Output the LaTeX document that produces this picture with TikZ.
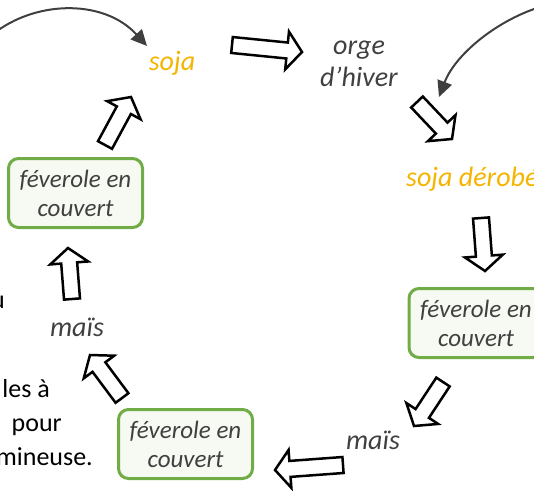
\documentclass[tikz,border=0pt]{standalone}
\usepackage{fontspec}
\setmainfont{Carlito}
\usetikzlibrary{calc,arrows.meta}
\definecolor{handgray}{HTML}{404040}
\definecolor{sojaor}{HTML}{F4B400}
\definecolor{boxgreen}{HTML}{70AD47}
\definecolor{boxfill}{HTML}{F7F9F3}
\definecolor{curvegray}{HTML}{3F3F3F}
\newcommand\blkarrow[2]{%
  \coordinate (ba-h) at ($(#2)!15pt!(#1)$);
  \draw[blockarr] ($(#1)!8pt!90:(#2)$) -- ($(ba-h)!8pt!90:(#2)$) -- ($(ba-h)!19pt!90:(#2)$) -- (#2) -- ($(ba-h)!19pt!-90:(#2)$) -- ($(ba-h)!8pt!-90:(#2)$) -- ($(#1)!8pt!-90:(#2)$) -- cycle;}
\begin{document}
\begin{tikzpicture}[x=1pt,y=-1pt,
  handtxt/.style={inner sep=0pt, text=handgray, font=\fontsize{28}{32}\selectfont\itshape, align=center},
  sojatxt/.style={handtxt, text=sojaor},
  greenbox/.style={draw=boxgreen, line width=3pt, rounded corners=10pt, fill=boxfill,
    minimum width=134pt, minimum height=69pt, inner sep=0pt, align=center,
    text=handgray, font=\fontsize{25}{29}\selectfont\itshape},
  blacktxt/.style={inner sep=0pt, text=black, font=\fontsize{26}{30}\selectfont},
  blockarr/.style={draw=black, fill=white, line width=2.5pt},
  curvearr/.style={draw=curvegray, line width=2pt, -{Triangle[length=16pt,width=15pt]}}]
\useasboundingbox (0,0) rectangle (534,490);
% text nodes
\node[sojatxt] (soja) at (172,63) {soja};
\node[handtxt] (orge) at (359,64) {orge\\d’hiver};
\node[sojatxt, anchor=west] (sojad) at (406,179) {soja dérobé};
\node[greenbox] (fev3) at (476,323) {féverole en\\couvert};
\node[handtxt] (mais2) at (373,440) {maïs};
\node[greenbox] (fev2) at (185.5,444) {féverole en\\couvert};
\node[handtxt] (mais1) at (77,327) {maïs};
\node[greenbox] (fev1) at (75.5,193) {féverole en\\couvert};
% left cut text
\node[blacktxt, anchor=base east] (l1) at (5,308) {u};
\node[blacktxt, anchor=base east] (l2) at (50,397) {les à};
\node[blacktxt, anchor=base east] (l3) at (62,431) {pour};
\node[blacktxt, anchor=base east] (l4) at (93,465) {mineuse.};
% curved arrows
\coordinate (c1s) at (-3,31);
\coordinate (c1e) at (147,46);
\draw[curvearr] (c1s) .. controls (40,0) and (105,0) .. (c1e);
\coordinate (c2s) at (537,8);
\coordinate (c2e) at (439,97);
\draw[curvearr] (c2s) .. controls (495,22) and (455,55) .. (c2e);
% block arrows
\coordinate (a1t) at (232,45);  \coordinate (a1p) at (302,52);
\coordinate (a2t) at (417,102); \coordinate (a2p) at (452,139);
\coordinate (a3t) at (481,218); \coordinate (a3p) at (485,271);
\coordinate (a4t) at (443,382); \coordinate (a4p) at (414,426);
\coordinate (a5t) at (343,465); \coordinate (a5p) at (275,470);
\coordinate (a6t) at (122,398); \coordinate (a6p) at (90,355);
\coordinate (a7t) at (72,299);  \coordinate (a7p) at (68,248);
\coordinate (a8t) at (105,145); \coordinate (a8p) at (131,97);
\blkarrow{a1t}{a1p}
\blkarrow{a2t}{a2p}
\blkarrow{a3t}{a3p}
\blkarrow{a4t}{a4p}
\blkarrow{a5t}{a5p}
\blkarrow{a6t}{a6p}
\blkarrow{a7t}{a7p}
\blkarrow{a8t}{a8p}
\end{tikzpicture}
\end{document}
